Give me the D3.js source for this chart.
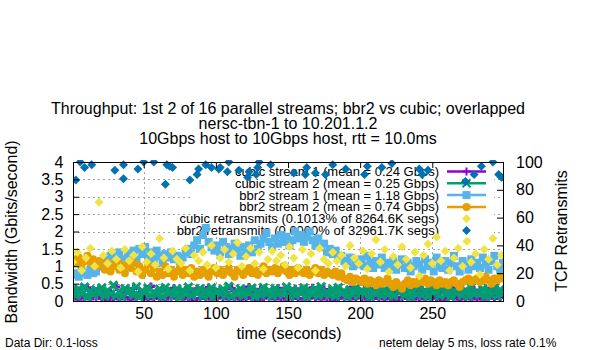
<!DOCTYPE html>
<html>
<head>
<meta charset="utf-8">
<script src="https://cdn.jsdelivr.net/npm/d3@7"></script>
<style>
  body { margin: 0; background: #fff; }
  svg { font-family: "Liberation Sans", Arial, sans-serif; }
</style>
</head>
<body>
<svg id="chart" width="600" height="350"></svg>
<script>
// sample times (seconds) - streams every 2 s, cubic retransmits every 3 s
const streamTimes = d3.range(1, 300, 2);
const cubicRetransTimes = d3.range(1, 300, 3);

// cubic stream 1 (Gbps)
const cubic1 = [
  0.08,0.32,0.05,0.25,0.1,0.38,0.06,0.28,0.12,0.35,
  0.07,0.3,0.04,0.22,0.09,0.4,0.06,0.27,0.11,0.33,
  0.05,0.36,0.08,0.24,0.1,0.31,0.06,0.42,0.09,0.26,
  0.07,0.34,0.05,0.29,0.12,0.37,0.08,0.23,0.06,0.32,
  0.1,0.28,0.04,0.35,0.07,0.25,0.09,0.39,0.05,0.3,
  0.08,0.33,0.11,0.26,0.06,0.36,0.09,0.22,0.05,0.31,
  0.07,0.4,0.1,0.27,0.04,0.34,0.08,0.29,0.12,0.24,
  0.06,0.37,0.09,0.3,0.05,0.26,0.11,0.35,0.07,0.32,
  0.05,0.28,0.08,0.38,0.1,0.23,0.06,0.33,0.09,0.3,
  0.04,0.36,0.07,0.25,0.11,0.31,0.06,0.4,0.08,0.27,
  0.1,0.34,0.05,0.29,0.07,0.37,0.09,0.24,0.06,0.32,
  0.08,0.26,0.04,0.35,0.1,0.3,0.07,0.39,0.05,0.28,
  0.09,0.33,0.06,0.23,0.11,0.36,0.08,0.31,0.04,0.27,
  0.07,0.38,0.1,0.25,0.05,0.34,0.09,0.29,0.06,0.32,
  0.08,0.3,0.05,0.36,0.12,0.26,0.07,0.33,0.1,0.28
];

// cubic stream 2 (Gbps)
const cubic2 = [
  0.3,0.15,0.35,0.2,0.4,0.12,0.28,0.18,0.33,0.22,
  0.38,0.14,0.3,0.2,0.45,0.16,0.27,0.13,0.36,0.24,
  0.32,0.17,0.41,0.12,0.29,0.21,0.37,0.15,0.26,0.19,
  0.34,0.13,0.39,0.22,0.28,0.16,0.35,0.11,0.31,0.2,
  0.4,0.15,0.27,0.23,0.36,0.14,0.3,0.18,0.38,0.12,
  0.29,0.21,0.34,0.16,0.42,0.13,0.26,0.19,0.35,0.15,
  0.31,0.22,0.37,0.12,0.28,0.17,0.39,0.2,0.3,0.14,
  0.36,0.18,0.27,0.23,0.4,0.13,0.33,0.16,0.29,0.21,
  0.38,0.12,0.3,0.19,0.35,0.15,0.41,0.2,0.26,0.17,
  0.34,0.14,0.39,0.22,0.28,0.13,0.32,0.18,0.37,0.16,
  0.3,0.2,0.36,0.12,0.27,0.21,0.4,0.15,0.33,0.19,
  0.29,0.14,0.38,0.23,0.31,0.16,0.35,0.12,0.28,0.2,
  0.42,0.17,0.3,0.13,0.36,0.22,0.27,0.15,0.39,0.18,
  0.33,0.12,0.29,0.21,0.37,0.16,0.31,0.14,0.4,0.19,
  0.26,0.2,0.35,0.13,0.3,0.17,0.38,0.15,0.32,0.22
];

// bbr2 stream 1 (Gbps)
const bbr1 = [
  0.75,0.8,0.7,0.85,0.8,0.75,0.9,0.8,0.85,1.0,
  1.1,0.95,1.2,1.3,1.05,1.25,1.4,1.2,1.1,1.35,
  1.3,1.45,1.2,1.5,1.35,1.55,1.3,1.4,1.2,1.45,
  1.3,1.1,1.35,1.25,1.4,1.2,1.3,1.15,1.25,1.4,
  1.5,1.35,1.6,1.75,1.5,1.9,2.1,1.7,1.55,1.45,
  1.6,1.4,1.7,1.55,1.35,1.5,1.65,1.45,1.3,1.55,
  1.45,1.6,1.4,1.75,1.5,1.65,1.8,1.95,1.7,1.55,
  1.8,1.65,1.9,1.7,1.85,1.6,1.75,2.0,1.8,1.9,
  1.7,1.85,2.0,1.75,1.6,1.8,1.55,1.65,1.4,1.5,
  1.35,1.45,1.25,1.3,1.15,1.1,1.25,1.0,1.15,1.05,
  1.2,1.0,1.3,1.1,0.95,1.15,1.05,1.25,0.95,1.1,
  1.0,1.15,0.9,1.05,1.2,0.95,1.1,0.85,1.0,1.15,
  1.05,0.9,1.2,1.0,1.1,0.85,1.25,1.0,0.95,1.15,
  0.9,1.1,1.3,1.0,0.85,1.15,1.05,0.9,1.2,1.0,
  1.1,0.95,1.25,1.05,0.9,1.15,1.3,1.0,0.9,1.1
];

// bbr2 stream 2 (Gbps)
const bbr2 = [
  1.2,1.1,1.25,1.05,1.15,1.3,1.1,1.2,1.0,1.15,
  1.05,0.9,1.1,0.85,1.0,1.15,0.9,1.05,0.8,1.0,
  0.95,1.1,0.85,1.0,0.75,0.9,1.05,0.8,0.95,0.7,
  0.85,0.75,1.0,0.8,0.9,0.7,0.85,0.95,0.75,0.9,
  0.8,0.95,0.7,0.85,0.75,0.9,0.8,0.7,0.85,0.95,
  0.8,0.9,0.75,0.85,0.95,0.8,0.7,0.9,0.85,0.75,
  0.85,0.95,0.8,0.9,0.75,0.85,1.0,0.8,0.9,0.85,
  0.95,0.8,0.9,1.0,0.85,0.75,0.9,0.8,0.95,0.85,
  0.8,0.9,0.75,0.85,0.95,0.8,0.9,0.75,0.85,0.8,
  0.75,0.85,0.7,0.8,0.65,0.6,0.7,0.55,0.65,0.6,
  0.55,0.65,0.5,0.6,0.55,0.45,0.6,0.5,0.55,0.65,
  0.5,0.4,0.55,0.45,0.35,0.5,0.6,0.45,0.55,0.5,
  0.6,0.55,0.65,0.5,0.6,0.55,0.45,0.6,0.5,0.55,
  0.45,0.55,0.6,0.5,0.4,0.55,0.6,0.65,0.55,0.6,
  0.65,0.55,0.6,0.7,0.6,0.5,0.65,0.6,0.7,0.65
];

// cubic retransmits (right axis)
const cubicRetrans = [
  28,35,22,31,38,25,71,33,27,36,
  30,24,37,29,33,21,39,28,34,26,
  45,31,23,36,30,27,38,22,33,29,
  35,26,40,24,31,37,28,34,42,25,
  32,38,27,35,23,30,36,29,33,26,
  39,31,24,37,28,34,22,38,30,27,
  35,29,33,25,40,31,27,36,23,34,
  44,28,37,21,32,26,39,30,24,35,
  18,33,41,27,46,29,36,22,31,38,
  25,43,28,34,19,37,30,45,26,33
];

// bbr2 retransmits (right axis), sparse
const bbrRetransTimes = [3,6,9,14,30,36,36,46,50,57,65,66,68,70,82,87,88,93,97,102,103,108,109,116,122,123,128,129,130,138,154,162,163,169,176,181,190,203,205,215,222,241,243,247,273,279,284,292,296,298];
const bbrRetrans = [87,100,96,98,94,98,88,95,100,100,84,98,97,96,87,91,95,98,96,95,96,93,100,94,89,93,91,96,100,98,92,91,96,92,91,98,95,91,97,96,99,95,91,94,86,91,97,100,91,89];

const yTicks = [0, 0.5, 1, 1.5, 2, 2.5, 3, 3.5, 4];
const y2Ticks = [0, 20, 40, 60, 80, 100];
const xTicks = [50, 100, 150, 200, 250];

const titleLines = [
  "Throughput: 1st 2 of 16 parallel streams; bbr2 vs cubic; overlapped",
  "nersc-tbn-1 to 10.201.1.2",
  "10Gbps host to 10Gbps host, rtt = 10.0ms"
];
const legendLabels = [
  "cubic stream 1 (mean = 0.24 Gbps)",
  "cubic stream 2 (mean = 0.25 Gbps)",
  "bbr2 stream 1 (mean = 1.18 Gbps)",
  "bbr2 stream 2 (mean = 0.74 Gbps)",
  "cubic retransmits (0.1013% of 8264.6K segs)",
  "bbr2 retransmits (0.0000% of 32961.7K segs)"
];

const svg = d3.select("#chart");
const plotL = 73, plotR = 503, plotT = 162, plotB = 301;

const x = d3.scaleLinear().domain([1, 299]).range([plotL, plotR]);
const y = d3.scaleLinear().domain([0, 4]).range([plotB, plotT]);
const y2 = d3.scaleLinear().domain([0, 100]).range([plotB, plotT]);

// grid
const grid = svg.append("g")
  .attr("stroke", "#a0a0a0").attr("stroke-width", 1).attr("stroke-dasharray", "2,3");
yTicks.slice(1, -1).forEach(v => {
  grid.append("line").attr("x1", plotL).attr("x2", plotR)
    .attr("y1", Math.round(y(v)) + 0.5).attr("y2", Math.round(y(v)) + 0.5);
});
xTicks.forEach(v => {
  grid.append("line").attr("y1", plotT).attr("y2", plotB)
    .attr("x1", Math.round(x(v)) + 0.5).attr("x2", Math.round(x(v)) + 0.5);
});

// opaque key box
svg.append("rect").attr("x", 192).attr("y", 163).attr("width", 302).attr("height", 74).attr("fill", "#fff");

const series = [
  {color: "#9400d3", shape: "plus"},
  {color: "#009e73", shape: "cross"},
  {color: "#56b4e9", shape: "square"},
  {color: "#e69f00", shape: "circle"},
  {color: "#f0e442", shape: "diamond"},
  {color: "#0072b2", shape: "diamond"}
];

function markerPath(shape, cx, cy) {
  if (shape === "plus") { const s = 4; return `M${cx - s},${cy}h${2 * s}M${cx},${cy - s}v${2 * s}`; }
  if (shape === "cross") { const s = 4; return `M${cx - s},${cy - s}l${2 * s},${2 * s}M${cx - s},${cy + s}l${2 * s},${-2 * s}`; }
  if (shape === "square") { const s = 4; return `M${cx - s},${cy - s}h${2 * s}v${2 * s}h${-2 * s}Z`; }
  if (shape === "circle") { const r = 4; return `M${cx - r},${cy}a${r},${r} 0 1,0 ${2 * r},0a${r},${r} 0 1,0 ${-2 * r},0Z`; }
  const s = 4.5; return `M${cx},${cy - s}l${s},${s}l${-s},${s}l${-s},${-s}Z`;
}

function styleMarker(sel, sr) {
  if (sr.shape === "plus" || sr.shape === "cross") sel.attr("fill", "none").attr("stroke", sr.color).attr("stroke-width", 3);
  else sel.attr("fill", sr.color);
}

// legend text & samples
const legendRowY = i => 171.5 + i * 11.8;
const lg = svg.append("g");
legendLabels.forEach((label, i) => {
  lg.append("text").attr("x", 439).attr("y", legendRowY(i)).attr("dy", "0.35em")
    .attr("text-anchor", "end").attr("font-size", 13).attr("fill", "#000").text(label);
  const sr = series[i];
  if (i < 4) {
    lg.append("line").attr("x1", 447).attr("x2", 486).attr("y1", legendRowY(i)).attr("y2", legendRowY(i))
      .attr("stroke", sr.color).attr("stroke-width", 2.5);
  }
  const mk = lg.append("path").attr("d", markerPath(sr.shape, 466.5, legendRowY(i)));
  styleMarker(mk, sr);
  if (i < 2) mk.attr("stroke-width", 2);
});

// data points, in plot order
const plotData = [
  {vals: cubic1, times: streamTimes, scale: y},
  {vals: cubic2, times: streamTimes, scale: y},
  {vals: bbr1, times: streamTimes, scale: y},
  {vals: bbr2, times: streamTimes, scale: y},
  {vals: cubicRetrans, times: cubicRetransTimes, scale: y2},
  {vals: bbrRetrans, times: bbrRetransTimes, scale: y2}
];
svg.append("clipPath").attr("id", "plotclip")
  .append("rect").attr("x", plotL).attr("y", plotT - 2).attr("width", plotR - plotL).attr("height", plotB - plotT + 2);

const pts = svg.append("g").attr("clip-path", "url(#plotclip)");
plotData.forEach((pd, i) => {
  const sr = series[i];
  pts.append("g").selectAll("path")
    .data(pd.vals.map((v, j) => [pd.times[j], v]))
    .join("path")
    .attr("d", d => markerPath(sr.shape, x(d[0]), pd.scale(d[1])))
    .call(sel => styleMarker(sel, sr));
});

// border
svg.append("rect").attr("x", plotL + 0.5).attr("y", plotT + 0.5)
  .attr("width", plotR - plotL).attr("height", plotB - plotT)
  .attr("fill", "none").attr("stroke", "#000").attr("stroke-width", 1);

// axes
function styleAxis(g) {
  g.select(".domain").remove();
  g.attr("font-family", null).attr("font-size", 16);
  g.selectAll("text").attr("fill", "#000");
  g.selectAll("line").attr("stroke", "#000");
}
svg.append("g").attr("transform", `translate(${plotL},0)`)
  .call(d3.axisLeft(y).tickValues(yTicks).tickFormat(d3.format("")).tickSize(-6).tickPadding(9.5))
  .call(styleAxis);
svg.append("g").attr("transform", `translate(${plotR},0)`)
  .call(d3.axisRight(y2).tickValues(y2Ticks).tickSize(-6).tickPadding(13))
  .call(styleAxis);
svg.append("g").attr("transform", `translate(0,${plotB})`)
  .call(d3.axisBottom(x).tickValues(xTicks).tickSize(-6).tickPadding(7))
  .call(styleAxis);
svg.append("g").attr("transform", `translate(0,${plotT})`)
  .call(d3.axisTop(x).tickValues(xTicks).tickSize(-6).tickFormat(""))
  .call(styleAxis);

// titles & labels
titleLines.forEach((t, i) => {
  svg.append("text").attr("x", 288).attr("y", 114 + i * 15).attr("text-anchor", "middle")
    .attr("font-size", 16).text(t);
});
svg.append("text").attr("transform", "translate(17,232) rotate(-90)").attr("text-anchor", "middle")
  .attr("font-size", 16).text("Bandwidth (Gbits/second)");
svg.append("text").attr("transform", "translate(567,231) rotate(-90)").attr("text-anchor", "middle")
  .attr("font-size", 16).text("TCP Retransmits");
svg.append("text").attr("x", 289).attr("y", 339).attr("text-anchor", "middle")
  .attr("font-size", 16).text("time (seconds)");
svg.append("text").attr("x", 5).attr("y", 347).attr("font-size", 12).text("Data Dir: 0.1-loss");
svg.append("text").attr("x", 379).attr("y", 347).attr("font-size", 12).text("netem delay 5 ms, loss rate 0.1%");
</script>
</body>
</html>
